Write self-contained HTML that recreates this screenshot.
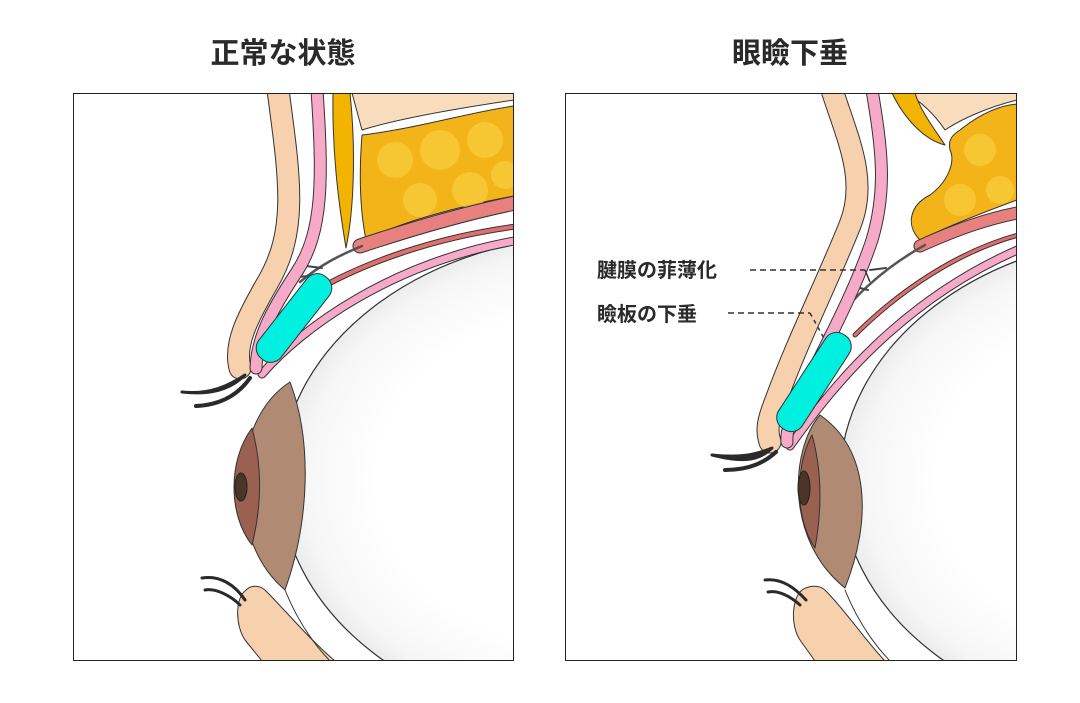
<!DOCTYPE html>
<html><head><meta charset="utf-8"><style>
html,body{margin:0;padding:0;background:#fff;width:1080px;height:703px;overflow:hidden}
svg{display:block}
text{font-family:"Liberation Sans","Noto Sans CJK JP",sans-serif;font-weight:bold;fill:#2a2a2a}
</style></head><body>
<svg width="1080" height="703" viewBox="0 0 1080 703" xmlns="http://www.w3.org/2000/svg">
<defs>
<radialGradient id="eg" cx="0.5" cy="0.5" r="0.5">
<stop offset="0.7" stop-color="#ffffff"/><stop offset="0.93" stop-color="#f6f6f6"/><stop offset="1" stop-color="#ececec"/>
</radialGradient>
<clipPath id="cl"><rect x="73" y="93" width="441" height="568"/></clipPath>
<clipPath id="cr"><rect x="565" y="93" width="452" height="568"/></clipPath>
</defs>
<text x="283" y="63" font-size="29" text-anchor="middle">正常な状態</text>
<text x="790" y="63" font-size="29" text-anchor="middle">眼瞼下垂</text>

<!-- LEFT PANEL -->
<g clip-path="url(#cl)" stroke-linejoin="round" stroke-linecap="round">
<rect x="73" y="93" width="441" height="568" fill="#fff"/>
<ellipse cx="600" cy="480" rx="320" ry="245" fill="url(#eg)" stroke="#333" stroke-width="1.2"/>
<path d="M290 382 C230 420 225 540 285 590 C310 520 312 440 290 382Z" fill="#b08a72" stroke="#333" stroke-width="1"/>
<path d="M252 428 C228 460 228 515 252 545 C262 505 262 465 252 428Z" fill="#9a6050" stroke="#333" stroke-width="1"/>
<ellipse cx="241" cy="487" rx="6" ry="14" fill="#4a3526" stroke="#222"/>
<path d="M352 93 L514 93 L514 100 C460 108 400 118 362 130 Z" fill="#f8dcbb" stroke="#333"/>
<path d="M362 135 C420 128 470 112 514 106 L514 196 C460 206 400 222 366 240 C358 200 360 160 362 135Z" fill="#f2b418" stroke="#333"/>
<g fill="#f8cc3a" opacity="0.8"><circle cx="395" cy="160" r="18"/><circle cx="440" cy="150" r="20"/><circle cx="485" cy="140" r="18"/><circle cx="420" cy="200" r="17"/><circle cx="470" cy="190" r="18"/><circle cx="505" cy="175" r="14"/></g>
<path d="M333 93 L350 93 C356 150 354 210 346 248 C338 200 332 150 333 93Z" fill="#f2b400" stroke="#333"/>
<path d="M360 246 C420 226 470 212 520 202" fill="none" stroke="#333" stroke-width="15"/>
<path d="M360 246 C420 226 470 212 520 202" fill="none" stroke="#e98080" stroke-width="13"/>
<path d="M300 300 C360 262 440 236 520 226" fill="none" stroke="#333" stroke-width="6"/>
<path d="M300 300 C360 262 440 236 520 226" fill="none" stroke="#e07070" stroke-width="4"/>
<path d="M262 374 C300 330 390 262 520 240" fill="none" stroke="#333" stroke-width="9"/>
<path d="M262 374 C300 330 390 262 520 240" fill="none" stroke="#f7aac8" stroke-width="7"/>
<path d="M300 282 C320 265 340 255 362 246" fill="none" stroke="#555" stroke-width="2.5"/>
<path d="M322 268 l-16 -2 M310 276 l-14 1" stroke="#444" stroke-width="2"/>
<!-- skin with gap -->
<path d="M278 90 C290 180 298 230 268 282 C246 320 234 345 240 368" fill="none" stroke="#333" stroke-width="23"/>
<path d="M278 90 C290 180 298 230 268 282 C246 320 234 345 240 368" fill="none" stroke="#f7d0ae" stroke-width="21"/>
<path d="M317 90 C323 180 323 230 298 270 C275 305 257 335 256 368" fill="none" stroke="#333" stroke-width="13"/>
<path d="M317 90 C323 180 323 230 298 270 C275 305 257 335 256 368" fill="none" stroke="#f7aac8" stroke-width="11"/>
<rect x="-52" y="-14" width="104" height="28" rx="13" fill="#00f0e0" stroke="#333" transform="translate(294 318) rotate(-52)"/>
<path d="M245 375 C230 385 210 395 182 392 C210 395 230 390 245 375Z" fill="#2a2a2a" stroke="#2a2a2a" stroke-width="3"/>
<path d="M250 378 C238 395 220 405 196 406" fill="none" stroke="#2a2a2a" stroke-width="4"/>
<path d="M246 590 C235 598 235 625 245 640 L262 661 L335 661 C310 640 285 610 265 590 C258 584 250 586 246 590Z" fill="#f7d0ae" stroke="#333"/>
<path d="M285 590 C295 615 310 640 330 661" fill="none" stroke="#333"/>
<path d="M245 600 C235 585 220 575 202 578 M240 605 C230 595 215 588 205 590" fill="none" stroke="#2a2a2a" stroke-width="3"/>
</g>
<rect x="73.5" y="93.5" width="440" height="567" fill="none" stroke="#222" stroke-width="1"/>

<!-- RIGHT PANEL -->
<g clip-path="url(#cr)" stroke-linejoin="round" stroke-linecap="round">
<rect x="565" y="93" width="452" height="568" fill="#fff"/>
<ellipse cx="1160" cy="480" rx="320" ry="245" fill="url(#eg)" stroke="#333" stroke-width="1.2"/>
<path d="M820 415 C790 450 785 540 845 588 C872 520 870 450 820 415Z" fill="#b08a72" stroke="#333"/>
<path d="M812 435 C795 465 795 520 815 548 C822 510 822 470 812 435Z" fill="#9a6050" stroke="#333"/>
<ellipse cx="804" cy="488" rx="6" ry="17" fill="#4a3526" stroke="#222"/>
<path d="M905 93 L1017 93 L1017 100 C985 108 960 120 945 130 C935 115 920 100 905 93Z" fill="#f8dcbb" stroke="#333"/>
<path d="M960 130 C985 110 1005 105 1017 104 L1017 200 C990 210 950 225 920 240 C905 225 910 205 930 195 C950 180 955 160 950 150 C948 140 952 135 960 130Z" fill="#f2b418" stroke="#333"/>
<g fill="#f8cc3a" opacity="0.8"><circle cx="980" cy="150" r="16"/><circle cx="960" cy="200" r="16"/><circle cx="1000" cy="190" r="14"/></g>
<path d="M892 93 L915 93 C920 110 935 130 945 145 C925 140 905 120 892 93Z" fill="#f2b400" stroke="#333"/>
<path d="M920 246 C960 228 990 218 1022 212" fill="none" stroke="#333" stroke-width="13"/>
<path d="M920 246 C960 228 990 218 1022 212" fill="none" stroke="#e98080" stroke-width="11"/>
<path d="M855 335 C900 290 960 250 1022 234" fill="none" stroke="#333" stroke-width="5"/>
<path d="M855 335 C900 290 960 250 1022 234" fill="none" stroke="#e07070" stroke-width="3"/>
<path d="M790 446 C830 390 900 300 1022 248" fill="none" stroke="#333" stroke-width="9"/>
<path d="M790 446 C830 390 900 300 1022 248" fill="none" stroke="#f7aac8" stroke-width="7"/>
<path d="M825 335 C850 300 880 270 925 245" fill="none" stroke="#555" stroke-width="2.5"/>
<path d="M886 268 l-16 2 M868 290 l-12 -3" stroke="#444" stroke-width="2"/>
<path d="M832 90 C848 140 868 180 850 225 C828 280 798 340 776 400 C768 420 766 430 770 442" fill="none" stroke="#333" stroke-width="23"/>
<path d="M832 90 C848 140 868 180 850 225 C828 280 798 340 776 400 C768 420 766 430 770 442" fill="none" stroke="#f7d0ae" stroke-width="21"/>
<path d="M872 90 C882 150 887 190 872 240 C852 300 817 360 797 405 C790 420 786 432 787 442" fill="none" stroke="#333" stroke-width="13"/>
<path d="M872 90 C882 150 887 190 872 240 C852 300 817 360 797 405 C790 420 786 432 787 442" fill="none" stroke="#f7aac8" stroke-width="11"/>
<rect x="-56" y="-14" width="112" height="28" rx="13" fill="#00f0e0" stroke="#333" transform="translate(814 382) rotate(-57)"/>
<path d="M772 448 C755 455 740 458 712 455 C740 462 758 462 772 448Z" fill="#2a2a2a" stroke="#2a2a2a" stroke-width="3"/>
<path d="M776 452 C765 462 750 470 725 470" fill="none" stroke="#2a2a2a" stroke-width="4"/>
<path d="M802 590 C792 598 790 625 800 640 L815 661 L885 661 C865 640 845 610 825 590 C818 584 808 586 802 590Z" fill="#f7d0ae" stroke="#333"/>
<path d="M845 590 C855 615 870 640 890 661" fill="none" stroke="#333"/>
<path d="M806 600 C795 588 782 578 765 580 M800 605 C790 596 778 590 768 592" fill="none" stroke="#2a2a2a" stroke-width="3"/>
</g>
<rect x="565.5" y="93.5" width="451" height="567" fill="none" stroke="#222" stroke-width="1"/>
<text x="597" y="277" font-size="20">腱膜の菲薄化</text>
<text x="597" y="321" font-size="20">瞼板の下垂</text>
<line x1="750" y1="270" x2="865" y2="270" stroke="#333" stroke-width="1.5" stroke-dasharray="6,4"/>
<line x1="865" y1="270" x2="870" y2="282" stroke="#333" stroke-width="1.5"/>
<line x1="728" y1="313" x2="810" y2="313" stroke="#333" stroke-width="1.5" stroke-dasharray="6,4"/>
<line x1="810" y1="313" x2="825" y2="340" stroke="#333" stroke-width="1.5" stroke-dasharray="4,4"/>
</svg>
</body></html>
